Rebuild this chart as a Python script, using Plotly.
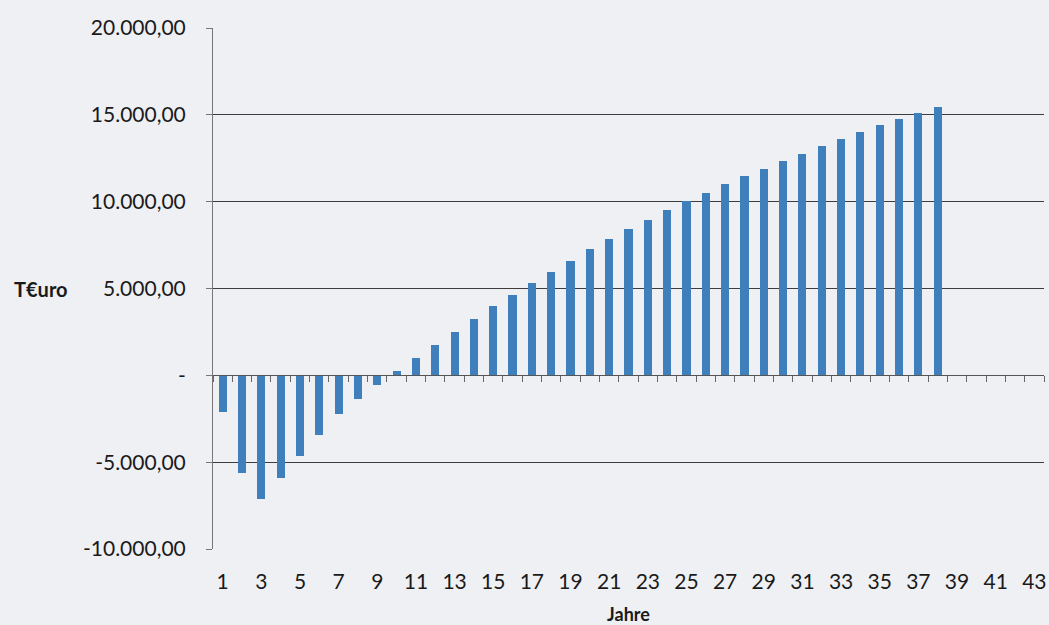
import plotly.graph_objects as go

years = list(range(1, 39))
values = [-2100, -5600, -7100, -5900, -4650, -3450, -2250, -1350, -550, 250,
          1020, 1770, 2500, 3270, 3980, 4650, 5320, 5960, 6610, 7250,
          7840, 8400, 8960, 9500, 10030, 10510, 11000, 11465, 11900, 12350,
          12770, 13190, 13635, 14020, 14400, 14750, 15115, 15460]

x_tick_vals = list(range(1, 44, 2))
x_tick_text = [str(v) for v in x_tick_vals]
y_tick_vals = [-10000, -5000, 0, 5000, 10000, 15000, 20000]
y_tick_text = ["-10.000,00", "-5.000,00", "-", "5.000,00", "10.000,00", "15.000,00", "20.000,00"]
boundaries = [v + 0.5 for v in range(0, 44)]

FONT = "Lato"
BAR = "#3f7fbb"
BG = "#eff0f4"

fig = go.Figure()
fig.add_trace(go.Bar(x=years, y=values, marker=dict(color=BAR, line=dict(width=0)),
                     width=0.42, showlegend=False, xaxis="x", yaxis="y"))
fig.add_trace(go.Scatter(x=[None], y=[None], xaxis="x2", yaxis="y",
                         showlegend=False, hoverinfo="skip"))

fig.update_layout(
    width=1049, height=625,
    margin=dict(l=213, r=5, t=28, b=76),
    paper_bgcolor=BG, plot_bgcolor=BG,
    font=dict(family=FONT, size=21, color="#1a1a1a"),
    bargap=0,
    xaxis=dict(range=[0.5, 43.5], tickmode="array", tickvals=x_tick_vals, ticktext=x_tick_text,
               showgrid=False, zeroline=False, showline=False, ticks="",
               ticklabelstandoff=18, automargin=False,
               title=dict(text="<b>Jahre</b>", font=dict(family=FONT, size=18), standoff=16)),
    xaxis2=dict(range=[0.5, 43.5], overlaying="x", anchor="free", position=1/3,
                tickmode="array", tickvals=boundaries, showticklabels=False,
                ticks="outside", ticklen=6, tickcolor="#666", tickwidth=1,
                showline=True, linecolor="#555", linewidth=1, showgrid=False, zeroline=False),
    yaxis=dict(range=[-10000, 20000], tickmode="array", tickvals=y_tick_vals, ticktext=y_tick_text,
               showgrid=True, gridcolor="#3d3d3d", gridwidth=1, zeroline=False,
               showline=True, linecolor="#777", linewidth=1, automargin=False,
               ticks="outside", ticklen=6, tickcolor="#777", ticklabelstandoff=16),
)

fig.add_annotation(text="<b>T€uro</b>", xref="paper", yref="paper",
                   x=(41 - 213) / 831, y=(5000 + 10000) / 30000,
                   xanchor="center", yanchor="middle", showarrow=False,
                   font=dict(family=FONT, size=20, color="#1a1a1a"))

fig.write_html("out.html")
